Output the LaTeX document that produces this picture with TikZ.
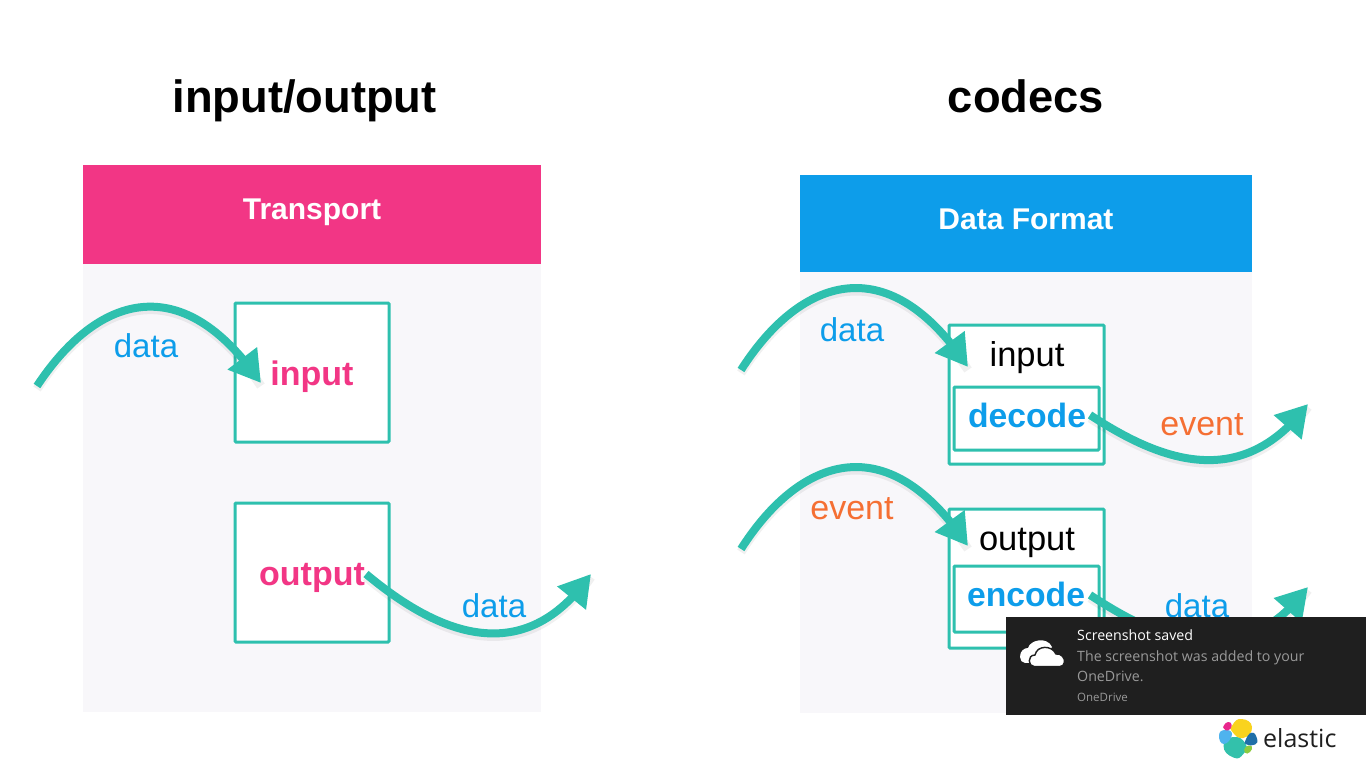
\documentclass[tikz,border=0pt]{standalone}
\usepackage{fontspec}
\setmainfont{Liberation Sans}
\newfontfamily\uifont{Open Sans}
\usetikzlibrary{arrows.meta,bending}
\definecolor{pinkc}{HTML}{F23685}
\definecolor{bluec}{HTML}{0D9DEA}
\definecolor{tealc}{HTML}{2EC0AE}
\definecolor{panelc}{HTML}{F8F7FA}
\definecolor{orangec}{HTML}{F56F33}
\definecolor{toastc}{HTML}{1F1F1F}
\definecolor{greyt}{HTML}{999999}
\definecolor{lgy}{HTML}{F9D31E}
\definecolor{lgp}{HTML}{E9278D}
\definecolor{lgb}{HTML}{4FB3EE}
\definecolor{lgd}{HTML}{1F6FA8}
\definecolor{lgt}{HTML}{33C1AB}
\definecolor{lgg}{HTML}{8CCB3F}
\newcommand{\fs}[1]{\fontsize{#1}{#1}\selectfont}
\tikzset{
  x=1pt,y=-1pt,
  tbox/.style={draw=tealc,line width=3pt,fill=white,rounded corners=1pt},
  flow/.style={
    preaction={draw=black,opacity=.06,line width=9pt,arrows=-,transform canvas={shift={(0pt,-3pt)}}},
    draw=tealc,line width=8pt,-{Triangle[length=31pt,width=35pt,flex=1]}},
  lbl/.style={inner sep=0pt,anchor=base},
  title/.style={lbl,font=\fs{45.3}\bfseries,text=black},
  hlabel/.style={lbl,font=\fs{30}\bfseries,text=white},
  dlabel/.style={lbl,font=\fs{33},text=bluec},
  elabel/.style={lbl,font=\fs{34},text=orangec},
  blabel/.style={lbl,font=\fs{34.5},text=black},
  plabel/.style={lbl,font=\fs{34}\bfseries,text=pinkc},
  clabel/.style={lbl,font=\fs{33.7}\bfseries,text=bluec},
  tt/.style={font=\uifont\fs{14.2},anchor=base west,inner sep=0pt},
}
\begin{document}
\begin{tikzpicture}
\useasboundingbox (0,0) rectangle (1366,768);
\fill[white] (0,0) rectangle (1366,768);
% left panel
\fill[panelc] (83,264) rectangle (541,712);
\fill[pinkc] (83,165) rectangle (541,264);
\node[title] (t1) at (304.5,112) {input/output};
\node[hlabel] (h1) at (312,219) {Transport};
\draw[tbox] (235,303) rectangle (389,442);
\draw[tbox] (235,503) rectangle (389,642);
\node[plabel] (i1) at (312,385) {input};
\node[plabel] (o1) at (312,585) {output};
\node[dlabel] (d1) at (146,357) {data};
\node[dlabel] (d2) at (494,617) {data};
% right panel
\fill[panelc] (800,272) rectangle (1252,713);
\fill[bluec] (800,175) rectangle (1252,272);
\node[title] (t2) at (1026,112) {codecs};
\node[hlabel] (h2) at (1026,229) {Data Format};
\draw[tbox] (949,325) rectangle (1104,464);
\draw[tbox] (954,387) rectangle (1099,450);
\draw[tbox] (949,509) rectangle (1104,648);
\draw[tbox] (954,566) rectangle (1099,632);
\node[blabel] (i2) at (1027,366) {input};
\node[clabel] (c1) at (1027,427) {decode};
\node[blabel] (o2) at (1027,550) {output};
\node[clabel] (c2) at (1026,606) {encode};
\node[dlabel] (d3) at (852,341) {data};
\node[elabel] (e1) at (1202,435) {event};
\node[elabel] (e2) at (852,519) {event};
\node[dlabel] (d4) at (1197,617) {data};
% connector ends
\coordinate (a1s) at (37,386);
\coordinate (a1e) at (261,383);
\coordinate (a2s) at (366,574);
\coordinate (a2e) at (591,574);
\coordinate (a3s) at (741,370);
\coordinate (a3e) at (968,367);
\coordinate (a4s) at (1090,415);
\coordinate (a4e) at (1308,404);
\coordinate (a5s) at (741,549);
\coordinate (a5e) at (968,546);
\coordinate (a6s) at (1090,595);
\coordinate (a6e) at (1308,587);
% connectors
\draw[flow] (a1s) .. controls ([shift={(58,-88)}]a1s) and ([shift={(-81,-118)}]a1e) .. (a1e);
\draw[flow] (a3s) .. controls ([shift={(58,-91)}]a3s) and ([shift={(-81,-122)}]a3e) .. (a3e);
\draw[flow] (a5s) .. controls ([shift={(58,-91)}]a5s) and ([shift={(-81,-122)}]a5e) .. (a5e);
\draw[flow] (a2s) .. controls ([shift={(60,50)}]a2s) and ([shift={(-72,104)}]a2e) .. (a2e);
\draw[flow] (a4s) .. controls ([shift={(60,39)}]a4s) and ([shift={(-70,94)}]a4e) .. (a4e);
\draw[flow] (a6s) .. controls ([shift={(60,39)}]a6s) and ([shift={(-70,94)}]a6e) .. (a6e);
% notification
\fill[toastc] (1006,617) rectangle (1366,715);
\fill[white] (1020,657) .. controls (1020,651) and (1024,648) .. (1028,648)
  .. controls (1030,640) and (1047,636) .. (1052,647)
  -- (1040,662) -- (1025,663) .. controls (1022,663) and (1020,660) .. (1020,657) -- cycle;
\filldraw[fill=white,draw=toastc,line width=1.4pt]
  (1034,666.5) .. controls (1028,666.5) and (1027,655) .. (1035,655)
  .. controls (1037,645) and (1052,645) .. (1056,654)
  .. controls (1061,653) and (1065,658) .. (1064.5,662)
  .. controls (1064.5,665) and (1062,666.5) .. (1060,666.5) -- cycle;
\node[tt,text=white] (n1) at (1077,640.5) {Screenshot saved};
\node[tt,text=greyt] (n2) at (1077,661) {The screenshot was added to your};
\node[tt,text=greyt] (n3) at (1077,681) {OneDrive.};
\node[tt,text=greyt,font=\uifont\fs{11.5}] (n4) at (1077,701) {OneDrive};
% logo
\fill[lgy] plot[smooth cycle,tension=1] coordinates {(1241.7,719) (1252,727) (1243.3,738) (1232.5,732) (1232.5,725)};
\fill[lgt] plot[smooth cycle,tension=1] coordinates {(1223.5,746) (1233.3,737) (1245.5,743.7) (1243.3,754) (1233.3,757.5)};
\fill[lgb] plot[smooth cycle,tension=1] coordinates {(1219,735.3) (1225,730) (1232,734.5) (1224,744)};
\fill[lgd] plot[smooth cycle,tension=1] coordinates {(1245.5,740.3) (1251.7,732.7) (1257,738.7) (1255,744.5) (1246.7,744.5)};
\fill[lgp] plot[smooth cycle,tension=1] coordinates {(1224,725.3) (1228.3,722) (1231.7,725.3) (1228.3,730.3) (1224,728.7)};
\fill[lgg] plot[smooth cycle,tension=1] coordinates {(1245.5,747) (1251.7,746.3) (1250,752) (1245,752.7)};
\node[font=\uifont\fs{25},text=toastc,inner sep=0pt,anchor=base west] (el) at (1263,747) {elastic};
\end{tikzpicture}
\end{document}
